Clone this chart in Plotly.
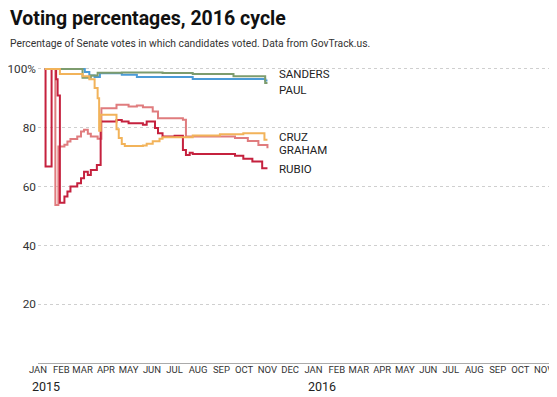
import plotly.graph_objects as go

# ---- data (step series: date, percentage) ----
sanders_dates = ["2015-01-10", "2015-03-01", "2015-03-12", "2015-03-21", "2015-04-22", "2015-06-15",
                 "2015-07-25", "2015-09-17", "2015-10-29", "2015-11-01"]
sanders_vals = [100, 97.0, 97.8, 98.7, 98.8, 98.6, 98.3, 97.5, 95.2, 95.2]

paul_dates = ["2015-01-10", "2015-03-04", "2015-03-10", "2015-03-17", "2015-03-24", "2015-04-22",
              "2015-05-12", "2015-07-25", "2015-10-29", "2015-11-01"]
paul_vals = [100, 99.0, 97.8, 97.3, 98.5, 98.0, 97.3, 96.6, 96.1, 96.1]

cruz_dates = ["2015-01-10", "2015-01-30", "2015-03-01", "2015-03-10", "2015-03-17", "2015-03-21",
              "2015-03-23", "2015-03-25", "2015-04-15", "2015-04-18", "2015-04-22", "2015-04-26",
              "2015-05-20", "2015-05-25", "2015-06-02", "2015-06-11", "2015-06-15", "2015-07-08",
              "2015-07-25", "2015-08-30", "2015-09-30", "2015-10-28", "2015-11-01"]
cruz_vals = [100, 98.3, 97.5, 96.5, 93.5, 90.0, 79.0, 84.4, 79.5, 76.5, 74.5, 73.8,
             74.0, 74.6, 75.4, 76.3, 76.8, 76.8, 77.4, 77.8, 78.1, 75.9, 75.9]

graham_dates = ["2015-01-10", "2015-01-24", "2015-01-28", "2015-02-05", "2015-02-09", "2015-02-13",
                "2015-02-22", "2015-02-27", "2015-03-03", "2015-03-08", "2015-03-12", "2015-03-21",
                "2015-03-26", "2015-04-15", "2015-05-01", "2015-05-12", "2015-05-20", "2015-06-02",
                "2015-06-09", "2015-07-12", "2015-07-16", "2015-09-19", "2015-10-06", "2015-10-20",
                "2015-11-01"]
graham_vals = [100, 53.7, 73.6, 74.2, 75.3, 76.2, 77.0, 78.7, 79.3, 78.0, 77.0, 76.3,
               86.6, 87.8, 87.2, 87.6, 87.0, 85.5, 83.2, 82.7, 77.0, 76.5, 75.5, 74.1, 73.0]

rubio_dates = ["2015-01-10", "2015-01-11", "2015-01-19", "2015-01-25", "2015-01-27", "2015-01-30",
               "2015-02-05", "2015-02-09", "2015-02-13", "2015-02-22", "2015-02-27", "2015-03-03",
               "2015-03-08", "2015-03-12", "2015-03-20", "2015-03-25", "2015-04-15", "2015-04-22",
               "2015-05-01", "2015-05-20", "2015-05-25", "2015-06-05", "2015-06-09", "2015-06-15",
               "2015-07-01", "2015-07-12", "2015-07-16", "2015-07-21", "2015-07-25", "2015-09-19",
               "2015-09-30", "2015-10-12", "2015-10-25", "2015-11-01"]
rubio_vals = [100, 66.8, 100, 96.5, 91.0, 54.5, 56.6, 58.3, 60.0, 61.1, 62.8, 65.0,
              63.9, 65.6, 67.3, 82.1, 82.6, 82.1, 81.5, 81.0, 82.1, 79.9, 78.1, 77.0,
              77.3, 72.4, 70.7, 71.5, 71.1, 70.5, 69.5, 68.5, 66.2, 66.2]

series_names = ["PAUL", "SANDERS", "GRAHAM", "RUBIO", "CRUZ"]
series_colors = {"SANDERS": "#7d9c6e", "PAUL": "#4b9bd7", "CRUZ": "#f2b35a",
                 "GRAHAM": "#e07c7e", "RUBIO": "#c5213e"}
series_data = {"SANDERS": (sanders_dates, sanders_vals), "PAUL": (paul_dates, paul_vals),
               "CRUZ": (cruz_dates, cruz_vals), "GRAHAM": (graham_dates, graham_vals),
               "RUBIO": (rubio_dates, rubio_vals)}
label_y = {"SANDERS": 98.4, "PAUL": 93.0, "CRUZ": 77.0, "GRAHAM": 72.3, "RUBIO": 65.9}

month_ticks = ["2015-%02d-01" % m for m in range(1, 13)] + ["2016-%02d-01" % m for m in range(1, 12)]
month_text = (["JAN", "FEB", "MAR", "APR", "MAY", "JUN", "JUL", "AUG", "SEP", "OCT", "NOV", "DEC"] * 2)[:23]
year_labels = ["2015", "2016"]
year_dates = ["2015-01-01", "2016-01-01"]

y_ticks = [20, 40, 60, 80, 100]
y_text = ["20", "40", "60", "80", "100%"]

FONT = "Roboto, 'Liberation Sans', Arial, sans-serif"

# page body has an 8px default margin, so the figure is sized to fit the window after it
W, H = 549, 389
ML, MR, MT, MB = 30, 8, 58, 34
PW, PH = W - ML - MR, H - MT - MB


def py(px):  # figure pixel y -> paper fraction
    return (H - MB - px) / PH


def pxx(px):  # figure pixel x -> paper fraction
    return (px - ML) / PW


fig = go.Figure()
for name in series_names:
    d, v = series_data[name]
    fig.add_trace(go.Scatter(x=d, y=v, mode="lines", line=dict(color=series_colors[name], width=2, shape="hv"),
                             name=name, showlegend=False, hoverinfo="skip"))

for name in series_names:
    fig.add_annotation(x="2015-11-13", y=label_y[name], text=name, showarrow=False, xanchor="left",
                       yanchor="middle", font=dict(family=FONT, size=11.5, color="#222"))

for yl, yd in zip(year_labels, year_dates):
    fig.add_annotation(x=yd, y=0, yref="paper", text=yl, showarrow=False, xanchor="left", yanchor="top",
                       xshift=-8, yshift=-14, font=dict(family=FONT, size=12.5, color="#222"))

fig.add_annotation(x=pxx(0), xref="paper", xanchor="left", y=py(10), yref="paper", yanchor="middle",
                   text="<b>Voting percentages, 2016 cycle</b>", showarrow=False,
                   font=dict(family=FONT, size=19.5, color="#111"))
fig.add_annotation(x=pxx(0), xref="paper", xanchor="left", y=py(36), yref="paper", yanchor="middle",
                   text="Percentage of Senate votes in which candidates voted. Data from GovTrack.us.",
                   showarrow=False, font=dict(family=FONT, size=10.3, color="#333"))

fig.update_layout(
    width=W, height=H,
    margin=dict(l=ML, r=MR, t=MT, b=MB, autoexpand=False),
    paper_bgcolor="white", plot_bgcolor="white",
    xaxis=dict(type="date", range=["2015-01-01", "2016-11-08"], tickvals=month_ticks, ticktext=month_text,
               showgrid=False, showline=True, linecolor="#aaa", linewidth=1, ticks="", ticklen=0,
               tickfont=dict(family=FONT, size=9.5, color="#333"), zeroline=False, ticklabelstandoff=-2,
               automargin=False, ticklabeloverflow="allow"),
    yaxis=dict(range=[0, 101], tickvals=y_ticks, ticktext=y_text, showgrid=True, gridcolor="#cfcfcf",
               griddash="dot", gridwidth=1, zeroline=False, showline=False, ticks="",
               tickfont=dict(family=FONT, size=11.8, color="#333"), ticklabelstandoff=1,
               automargin=False),
)
fig.write_html("out.html")
